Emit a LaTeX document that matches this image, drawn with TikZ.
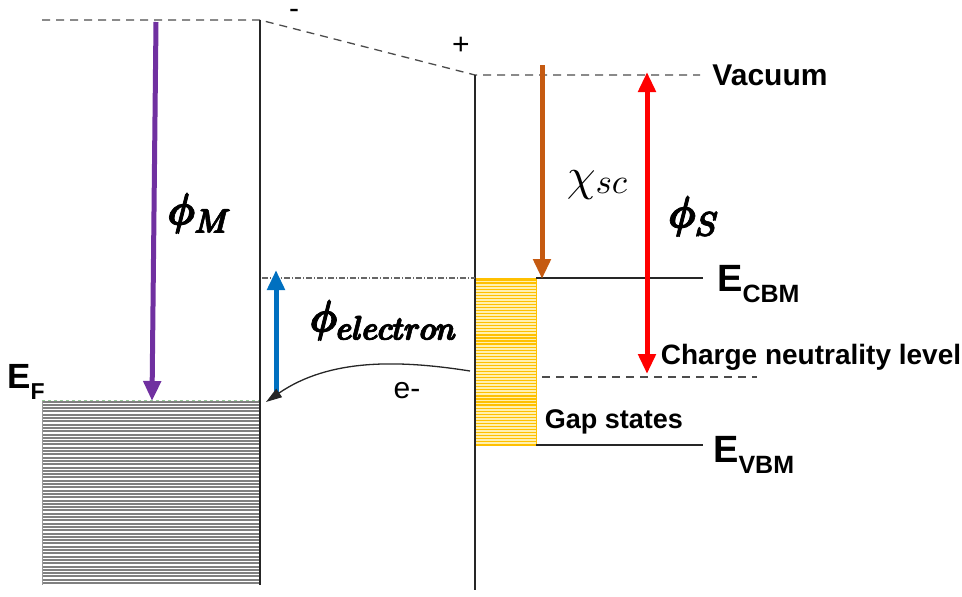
\documentclass[tikz,border=0pt]{standalone}
\usepackage{amsmath}
\usepackage{fontspec}
\setmainfont{Liberation Sans}
\usepackage{graphicx}
\usetikzlibrary{arrows.meta}
\definecolor{purp}{HTML}{7030A0}
\definecolor{bluea}{HTML}{0070C0}
\definecolor{orng}{HTML}{C55A11}
\definecolor{goldl}{HTML}{FFC000}
\definecolor{lightyel}{HTML}{FFF0B0}
\newcommand{\emb}[1]{\special{pdf:literal direct 2 Tr 0.16 w}#1\special{pdf:literal direct 0 Tr}}
\newcommand{\bigsym}[2]{\scalebox{4.4}{\emb{$\pmb{#1}$}}\raisebox{-8pt}{\scalebox{3.3}{\emb{$\pmb{#2}$}}}}
\begin{document}
\begin{tikzpicture}[x=1pt,y=-1pt,
  vac/.style={dash pattern=on 8pt off 6pt, line width=1.3pt, black!70},
  lvl/.style={line width=1.6pt, black!85},
  wall/.style={line width=1.6pt, black!85},
  bigarrow/.style={line width=5pt, -{Triangle[width=17pt,length=20pt]}},
  lbl/.style={font=\bfseries\fontsize{27}{30}\selectfont, inner sep=0pt},
  plain/.style={font=\fontsize{30}{34}\selectfont, inner sep=0pt}]
\useasboundingbox (0,0) rectangle (962,597);
% coordinates
\coordinate (vl) at (42,20);
\coordinate (mtop) at (260,20);
\coordinate (mbot) at (260,585);
\coordinate (stop) at (475,75);
\coordinate (sbot) at (475,590);
\coordinate (vr) at (700,75);
\coordinate (cbmL) at (536,278);
\coordinate (cbmR) at (703,278);
\coordinate (vbmL) at (536,445);
\coordinate (vbmR) at (703,445);
\coordinate (cnlL) at (542,377);
\coordinate (cnlR) at (757,377);
\coordinate (dd1) at (262,278);
\coordinate (dd2) at (475,278);
% metal block
\fill[white] (42,400) rectangle (260,585);
\foreach \k in {0,...,55} {
  \draw[black!50, line width=2pt] (42,{401.5+3.3*\k}) -- (260,{401.5+3.3*\k});
}
\draw[black!40, line width=0.8pt] (42,400) -- (42,585);
\draw[green!50!black!40, dashed, line width=0.6pt] (42,400) -- (260,400);
% gap states box
\fill[lightyel] (475,278) rectangle (536,445);
\foreach \k in {0,...,54} {
  \draw[goldl, line width=1.2pt] (475,{280+3.05*\k}) -- (536,{280+3.05*\k});
}
\draw[goldl, line width=1pt] (475,278) rectangle (536,445);
% vacuum level
\draw[vac] (vl) -- (mtop) -- (stop) -- (vr);
% walls
\draw[wall] (mtop) -- (mbot);
\draw[wall] (stop) -- (sbot);
% levels
\draw[lvl] (cbmL) -- (cbmR);
\draw[lvl] (vbmL) -- (vbmR);
\draw[vac] (cnlL) -- (cnlR);
\draw[black!60, line width=1.2pt, dash pattern=on 6pt off 2pt on 1pt off 2pt] (dd1) -- (dd2);
% arrows
\coordinate (pa1) at (156,22);
\coordinate (pa2) at (152,401);
\draw[bigarrow, purp] (pa1) -- (pa2);
\coordinate (ba1) at (276,396);
\coordinate (ba2) at (276,270);
\draw[bigarrow, bluea] (ba1) -- (ba2);
\coordinate (oa1) at (542,65);
\coordinate (oa2) at (542,279);
\draw[bigarrow, orng] (oa1) -- (oa2);
\coordinate (ra1) at (647,72);
\coordinate (ra2) at (647,374);
\draw[line width=5pt, red, {Triangle[width=17pt,length=20pt]}-{Triangle[width=17pt,length=20pt]}] (ra1) -- (ra2);
% electron curve
\coordinate (e1) at (470,371);
\coordinate (e2) at (266,402);
\draw[line width=1.3pt, black!85, -{Triangle[width=10pt,length=16pt]}] (e1) .. controls (400,360) and (330,358) .. (e2);
% labels
\node[lbl, font=\bfseries\fontsize{30}{32}\selectfont] (lvac) at (770,75) {Vacuum};
\node[lbl, font=\bfseries\fontsize{28}{30}\selectfont] (lcnl) at (811,357) {Charge neutrality level};
\node[lbl] (lgap) at (614,422) {Gap states};
\node[lbl, anchor=west, font=\bfseries\fontsize{38}{40}\selectfont] (lcbm) at (717,284) {E\raisebox{-0.3em}{\fontsize{25}{28}\selectfont CBM}};
\node[lbl, anchor=west, font=\bfseries\fontsize{38}{40}\selectfont] (lvbm) at (713,455) {E\raisebox{-0.3em}{\fontsize{25}{28}\selectfont VBM}};
\node[lbl, anchor=west, font=\bfseries\fontsize{35}{38}\selectfont] (lef) at (7,382) {E\raisebox{-0.3em}{\fontsize{23}{26}\selectfont F}};
\node[plain, anchor=base, text height=10pt, text depth=0pt] (lminus) at (294,18) {-};
\node[plain] (lplus) at (461,46) {+};
\node[plain] (le) at (407,391) {e-};
\node[inner sep=0pt] (lphim) at (200,213) {\bigsym{\phi}{M}};
\node[inner sep=0pt] (lphie) at (384,320) {\bigsym{\phi}{electron}};
\node[inner sep=0pt] (lchi) at (597,185) {\scalebox{4.6}{$\chi$}\raisebox{-3pt}{\scalebox{3.5}{$sc$}}};
\node[inner sep=0pt] (lphis) at (694,216) {\bigsym{\phi}{S}};
\end{tikzpicture}
\end{document}
